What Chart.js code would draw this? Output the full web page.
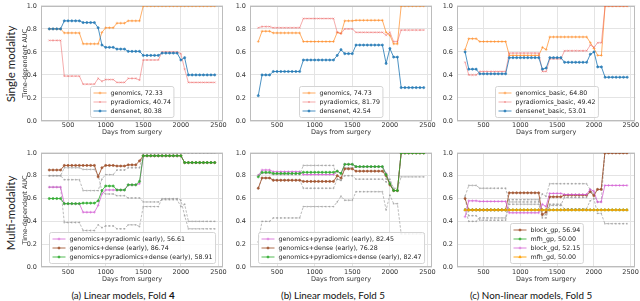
<!DOCTYPE html>
<html>
<head>
<meta charset="utf-8">
<script src="https://cdn.jsdelivr.net/npm/chart.js@4.4.1/dist/chart.umd.min.js"></script>
<style>
  html, body { margin: 0; padding: 0; background: #fff; }
  #fig { position: relative; width: 640px; height: 301px; overflow: hidden; }
  canvas { position: absolute; }
  .row { position: absolute; font-family: Lato, "Open Sans", sans-serif; font-size: 11.5px; color: #222;
         white-space: nowrap; transform: translate(-50%, -50%) rotate(-90deg); }
  .cap { position: absolute; top: 295px; font-family: Lato, "Open Sans", sans-serif; font-size: 9.8px; color: #111;
         white-space: nowrap; transform: translate(-50%, -50%); }
</style>
</head>
<body>
<div id="fig">
  <canvas id="a1" width="209" height="138" style="left:20px;top:-2px"></canvas>
  <canvas id="b1" width="204" height="138" style="left:234px;top:-2px"></canvas>
  <canvas id="c1" width="199" height="138" style="left:441px;top:-2px"></canvas>
  <canvas id="a2" width="209" height="138" style="left:20px;top:145px"></canvas>
  <canvas id="b2" width="204" height="138" style="left:234px;top:145px"></canvas>
  <canvas id="c2" width="199" height="138" style="left:441px;top:145px"></canvas>
  <div class="row" style="left:10px;top:64px">Single modality</div>
  <div class="row" style="left:10px;top:213px">Multi-modality</div>
  <div class="cap" style="left:123px">(a) Linear models, Fold <b>4</b></div>
  <div class="cap" style="left:333px">(b) Linear models, Fold 5</div>
  <div class="cap" style="left:531px">(c) Non-linear models, Fold 5</div>
</div>
<script>
// days from surgery (x of every point)
const days = [250, 300, 350, 400, 450, 500, 550, 600, 650, 700, 750, 800, 850, 900, 950,
  1000, 1050, 1100, 1150, 1200, 1250, 1300, 1350, 1400, 1450, 1500, 1550, 1600, 1650, 1700,
  1750, 1800, 1850, 1900, 1950, 2000, 2050, 2100, 2150, 2200, 2250, 2300, 2350, 2400, 2450];
const xTickVals = [500, 1000, 1500, 2000, 2500];
const yTickVals = [0, 0.2, 0.4, 0.6, 0.8, 1.0];

// (a) single modality, fold 4
const genomicsA = [.80, .80, .80, .80, .765, .765, .765, .765, .765, .67, .67, .67, .67, .67, .77,
  .81, .81, .81, .85, .85, .85, .87, .87, .87, .87, 1, 1, 1, 1, 1,
  1, 1, 1, 1, 1, 1, 1, 1, 1, 1, 1, 1, 1, 1, 1];
const pyradA = [.70, .70, .70, .70, .39, .39, .39, .39, .39, .32, .32, .32, .32, .37, .345,
  .36, .36, .36, .335, .335, .335, .37, .37, .37, .355, .53, .53, .53, .53, .53,
  .60, .60, .60, .60, .60, .585, .45, .335, .335, .335, .335, .335, .335, .335, .335];
const denseA = [.80, .80, .80, .80, .87, .87, .87, .87, .87, .855, .855, .855, .855, .81, .66,
  .64, .64, .64, .625, .625, .625, .605, .605, .605, .605, .57, .57, .57, .57, .57,
  .59, .59, .59, .59, .59, .53, .55, .40, .40, .40, .40, .40, .40, .40, .40];

// (b) single modality, fold 5
const genomicsB = [.69, .78, .78, .78, .765, .765, .765, .765, .765, .765, .765, .765, .69, .69, .69,
  .69, .69, .69, .69, .69, .69, .77, .76, .87, .87, .87, .875, .875, .875, .875,
  .875, .875, .875, .875, .77, .745, .67, .67, 1, 1, 1, 1, 1, 1, 1];
const pyradB = [.81, .82, .82, .82, .81, .81, .81, .81, .81, .81, .81, .81, .89, .89, .89,
  .89, .89, .89, .89, .89, .89, .77, .76, .80, .80, .80, .77, .77, .77, .77,
  .77, .77, .77, .77, .745, .77, .69, .69, .79, .79, .79, .79, .79, .79, .79];
const denseB = [.22, .40, .40, .40, .43, .43, .43, .43, .43, .43, .43, .43, .53, .53, .53,
  .53, .53, .53, .53, .53, .53, .57, .62, .585, .585, .585, .66, .66, .66, .66,
  .66, .66, .66, .66, .50, .63, .555, .555, .29, .29, .29, .29, .29, .29, .29];

// (c) single modality basic, fold 5
const genomicsC = [.62, .715, .715, .715, .69, .69, .69, .69, .69, .69, .69, .69, .57, .57, .57,
  .57, .57, .57, .57, .57, .57, .64, .62, .73, .73, .73, .73, .73, .73, .73,
  .73, .73, .73, .73, .68, .63, .57, .57, 1, 1, 1, 1, 1, 1, 1];
const pyradC = [.51, .40, .40, .40, .43, .43, .43, .43, .43, .43, .43, .43, .59, .59, .59,
  .59, .59, .59, .59, .59, .59, .43, .43, .54, .54, .54, .54, .61, .61, .61,
  .61, .61, .61, .61, .66, .64, .68, .68, 1, 1, 1, 1, 1, 1, 1];
const denseC = [.60, .45, .45, .45, .41, .41, .41, .41, .41, .41, .41, .41, .55, .55, .55,
  .55, .55, .55, .55, .55, .55, .45, .46, .55, .55, .55, .55, .51, .51, .51,
  .51, .51, .51, .51, .58, .60, .47, .47, .38, .38, .38, .38, .38, .38, .38];

// (a) multi-modality, fold 4
const gpA = [.70, .70, .70, .70, .555, .555, .555, .555, .555, .48, .48, .48, .48, .54, .64,
  .675, .675, .675, .675, .675, .675, .72, .72, .72, .73, .975, .975, .975, .975, .975,
  .975, .975, .975, .975, .975, .975, .915, .915, .915, .915, .915, .915, .915, .915, .915];
const gdA = [.85, .85, .85, .85, .89, .89, .89, .89, .89, .89, .89, .89, .89, .79, .87,
  .89, .89, .89, .885, .885, .885, .895, .895, .895, .93, .975, .975, .975, .975, .975,
  .975, .975, .975, .975, .975, .975, .915, .915, .915, .915, .915, .915, .915, .915, .915];
const gpdA = [.60, .60, .60, .60, .555, .555, .555, .555, .555, .56, .56, .56, .56, .58, .67,
  .71, .71, .71, .675, .675, .675, .72, .72, .72, .75, .975, .975, .975, .975, .975,
  .975, .975, .975, .975, .975, .975, .915, .915, .915, .915, .915, .915, .915, .915, .915];

// (b) multi-modality, fold 5
const gpB = [.80, .85, .85, .85, .835, .835, .835, .835, .835, .835, .835, .835, .81, .81, .81,
  .81, .81, .81, .81, .81, .81, .84, .82, .90, .90, .90, .88, .88, .88, .88,
  .88, .88, .88, .88, .82, .73, .67, .67, 1, 1, 1, 1, 1, 1, 1];
const gdB = [.69, .78, .78, .78, .76, .76, .76, .76, .76, .76, .76, .76, .75, .75, .75,
  .75, .75, .75, .75, .75, .75, .80, .78, .86, .86, .86, .84, .84, .84, .84,
  .84, .84, .84, .84, .80, .72, .67, .67, 1, 1, 1, 1, 1, 1, 1];
const gpdB = [.79, .83, .83, .83, .82, .82, .82, .82, .82, .82, .82, .82, .83, .83, .83,
  .83, .83, .83, .83, .83, .83, .84, .82, .90, .90, .90, .88, .88, .88, .88,
  .88, .88, .88, .88, .81, .73, .67, .67, 1, 1, 1, 1, 1, 1, 1];

// (c) non-linear multi-modality, fold 5
const blockGp = [.60, .50, .50, .50, .50, .50, .50, .50, .50, .50, .50, .50, .65, .65, .65,
  .65, .65, .65, .65, .65, .65, .46, .48, .615, .615, .615, .615, .63, .63, .63,
  .63, .63, .63, .63, .66, .625, .68, .68, 1, 1, 1, 1, 1, 1, 1];
const mfhGp = [.50, .50, .50, .50, .50, .50, .50, .50, .50, .50, .50, .50, .50, .50, .50,
  .50, .50, .50, .50, .50, .50, .50, .50, .50, .50, .50, .50, .50, .50, .50,
  .50, .50, .50, .50, .50, .50, .50, .50, .50, .50, .50, .50, .50, .50, .50];
const blockGd = [.44, .58, .58, .58, .575, .575, .575, .575, .575, .575, .575, .575, .475, .475, .475,
  .475, .475, .475, .475, .475, .475, .55, .53, .645, .645, .645, .645, .635, .635, .635,
  .635, .635, .635, .635, .68, .665, .57, .57, .715, .715, .715, .715, .715, .715, .715];
const mfhGd = [.50, .50, .50, .50, .50, .50, .50, .50, .50, .50, .50, .50, .50, .50, .50,
  .50, .50, .50, .50, .50, .50, .50, .50, .50, .50, .50, .50, .50, .50, .50,
  .50, .50, .50, .50, .50, .50, .50, .50, .50, .50, .50, .50, .50, .50, .50];

// styles
const ORANGE = 'rgba(255,130,20,0.65)', PINK = 'rgba(235,90,90,0.5)', BLUE = 'rgba(31,119,180,0.8)';
const VIOLET = 'rgba(210,90,210,0.75)', BROWN = 'rgba(160,82,45,0.85)', GREEN = 'rgba(44,170,44,0.8)';
const GOLD = 'rgba(255,160,0,0.9)', GRAY = 'rgba(150,150,150,0.65)';

function pts(vals) { return days.map((d, i) => ({ x: d, y: vals[i] })); }

function line(label, vals, color, style, n, i) {
  return { label, data: pts(vals), borderColor: color, backgroundColor: color, borderWidth: 1,
    pointStyle: style, pointRadius: style === 'circle' ? 1.1 : 1.4, pointBorderWidth: 0.7,
    tension: 0, fill: false, order: n - i };
}
function refLine(vals) {
  return { label: '', isRef: true, data: pts(vals), borderColor: GRAY, backgroundColor: GRAY,
    borderWidth: 1, borderDash: [2.5, 1.5], pointStyle: 'circle', pointRadius: 0.9, pointBorderWidth: 0,
    tension: 0, fill: false, order: 100 };
}

// plot frame
const frame = {
  id: 'frame',
  beforeDatasetsDraw(chart) {
    const a = chart.chartArea, ctx = chart.ctx;
    ctx.save();
    ctx.strokeStyle = '#bcbcbc';
    ctx.lineWidth = 1;
    ctx.strokeRect(Math.round(a.left) + 0.5, Math.round(a.top) + 0.5,
      Math.round(a.right - a.left) - 1, Math.round(a.bottom - a.top) - 1);
    ctx.restore();
  }
};

// matplotlib-like legend, lower center inside the plot
const boxLegend = {
  id: 'boxLegend',
  afterDatasetsDraw(chart) {
    const items = chart.data.datasets.filter(d => !d.isRef);
    const ctx = chart.ctx, a = chart.chartArea;
    const rowH = 9, padX = 3, padY = 2, sw = 13, gap = 4;
    ctx.save();
    ctx.font = '6.3px "DejaVu Sans"';
    const tw = Math.max(...items.map(d => ctx.measureText(d.label).width));
    const w = padX * 2 + sw + gap + tw, h = padY * 2 + rowH * items.length;
    const x = Math.round((a.left + a.right) / 2 - w / 2) + 0.5;
    const y = Math.round(a.bottom - 4 - h) + 0.5;
    ctx.beginPath();
    ctx.roundRect(x, y, w, h, 2);
    ctx.fillStyle = 'rgba(255,255,255,0.85)';
    ctx.fill();
    ctx.strokeStyle = '#d4d4d4';
    ctx.lineWidth = 1;
    ctx.stroke();
    items.forEach((d, i) => {
      const cy = y + padY + rowH * i + rowH / 2;
      ctx.strokeStyle = d.borderColor;
      ctx.lineWidth = d.borderWidth;
      ctx.beginPath();
      ctx.moveTo(x + padX, cy);
      ctx.lineTo(x + padX + sw, cy);
      ctx.stroke();
      ctx.fillStyle = d.backgroundColor;
      ctx.lineWidth = d.pointBorderWidth;
      Chart.helpers.drawPoint(ctx, { pointStyle: d.pointStyle, radius: d.pointRadius,
        borderWidth: d.pointBorderWidth, rotation: 0 }, x + padX + sw / 2, cy);
      ctx.fillStyle = '#222';
      ctx.textBaseline = 'middle';
      ctx.fillText(d.label, x + padX + sw + gap, cy + 0.5);
    });
    ctx.restore();
  }
};

Chart.defaults.font.family = '"DejaVu Sans", sans-serif';
Chart.defaults.font.size = 6.5;
Chart.defaults.color = '#333';

function draw(id, datasets, o) {
  new Chart(document.getElementById(id), {
    type: 'line',
    data: { datasets },
    options: {
      responsive: false, animation: false, devicePixelRatio: 1,
      layout: { padding: { top: 5, right: o.pr, left: 0, bottom: 0 } },
      plugins: { legend: { display: false }, tooltip: { enabled: false } },
      scales: {
        x: {
          type: 'linear', min: 140, max: 2560,
          afterBuildTicks: s => { s.ticks = xTickVals.map(v => ({ value: v })); },
          afterFit: s => { s.height = o.xh; },
          grid: { color: '#e4e4e4', drawTicks: false },
          border: { display: false },
          ticks: { padding: o.tp, maxRotation: 0, autoSkip: false, callback: v => String(v) },
          title: { display: true, text: 'Days from surgery', padding: 0 }
        },
        y: {
          min: 0, max: 1,
          afterBuildTicks: s => { s.ticks = yTickVals.map(v => ({ value: v })); },
          afterFit: s => { s.width = o.yw; },
          grid: { color: '#e4e4e4', drawTicks: false },
          border: { display: false },
          ticks: { padding: 4, callback: v => v.toFixed(1) },
          title: { display: o.yTitle, text: 'Time-dependent AUC', padding: { top: 1, bottom: 0 } }
        }
      }
    },
    plugins: [frame, boxLegend]
  });
}

const colA = { yw: 21, pr: 6, yTitle: true };
const colB = { yw: 16, pr: 6, yTitle: false };
const colC = { yw: 16, pr: 3, yTitle: false };
const top1 = { xh: 15, tp: 0 }, bot2 = { xh: 16, tp: 1 };

draw('a1', [
  line('genomics, 72.33', genomicsA, ORANGE, 'cross', 3, 0),
  line('pyradiomics, 40.74', pyradA, PINK, 'crossRot', 3, 1),
  line('densenet, 80.38', denseA, BLUE, 'circle', 3, 2)
], { ...colA, ...top1 });
draw('b1', [
  line('genomics, 74.73', genomicsB, ORANGE, 'cross', 3, 0),
  line('pyradiomics, 81.79', pyradB, PINK, 'crossRot', 3, 1),
  line('densenet, 42.54', denseB, BLUE, 'circle', 3, 2)
], { ...colB, ...top1 });
draw('c1', [
  line('genomics_basic, 64.80', genomicsC, ORANGE, 'cross', 3, 0),
  line('pyradiomics_basic, 49.42', pyradC, PINK, 'crossRot', 3, 1),
  line('densenet_basic, 53.01', denseC, BLUE, 'circle', 3, 2)
], { ...colC, ...top1 });

draw('a2', [
  line('genomics+pyradiomic (early), 56.61', gpA, VIOLET, 'cross', 3, 0),
  line('genomics+dense (early), 86.74', gdA, BROWN, 'circle', 3, 1),
  line('genomics+pyradiomics+dense (early), 58.91', gpdA, GREEN, 'circle', 3, 2),
  refLine(genomicsA), refLine(pyradA), refLine(denseA)
], { ...colA, ...bot2 });
draw('b2', [
  line('genomics+pyradiomic (early), 82.45', gpB, VIOLET, 'cross', 3, 0),
  line('genomics+dense (early), 76.28', gdB, BROWN, 'circle', 3, 1),
  line('genomics+pyradiomics+dense (early), 82.47', gpdB, GREEN, 'circle', 3, 2),
  refLine(genomicsB), refLine(pyradB), refLine(denseB)
], { ...colB, ...bot2 });
draw('c2', [
  line('block_gp, 56.94', blockGp, BROWN, 'circle', 4, 0),
  line('mfh_gp, 50.00', mfhGp, GREEN, 'circle', 4, 1),
  line('block_gd, 52.15', blockGd, VIOLET, 'cross', 4, 2),
  line('mfh_gd, 50.00', mfhGd, GOLD, 'triangle', 4, 3),
  refLine(genomicsC), refLine(pyradC), refLine(denseC)
], { ...colC, ...bot2 });
</script>
</body>
</html>
